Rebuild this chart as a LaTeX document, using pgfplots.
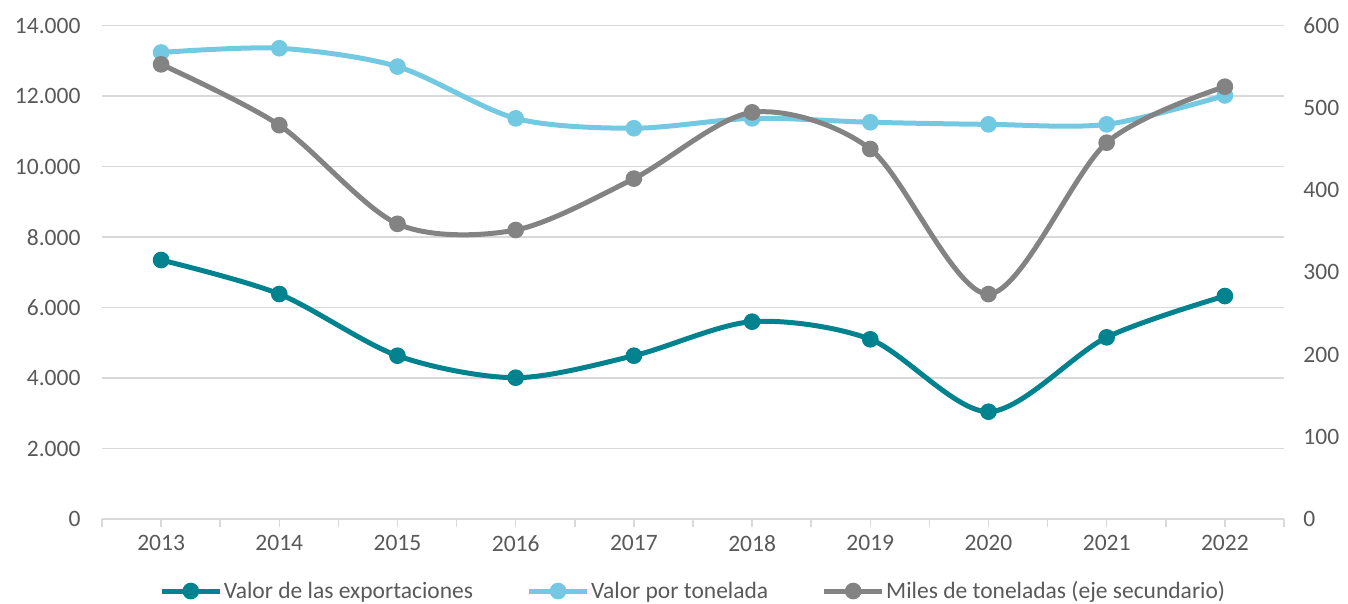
\documentclass[border=0pt]{standalone}
\usepackage{pgfplots}
\pgfplotsset{compat=1.18}
\usepackage{fontspec}
\setmainfont{Carlito}
\definecolor{teal1}{HTML}{00838F}
\definecolor{lblue}{HTML}{74C9E2}
\definecolor{gr}{HTML}{838383}
\definecolor{txt}{HTML}{595959}
\definecolor{gridc}{HTML}{D9D9D9}
\begin{document}
\begin{tikzpicture}
\path[use as bounding box] (-102pt,-84pt) rectangle (1246pt,519pt);
\pgfplotsset{
 base/.style={
  scale only axis, width=1182pt, height=493.3pt, at={(0pt,0pt)}, anchor=south west,
  xmin=-0.5, xmax=9.5, clip=false, scaled y ticks=false,
  tick label style={font=\fontsize{23.5}{26}\selectfont, text=txt},
  /pgf/number format/assume math mode=true,
  /pgf/number format/1000 sep={.},
  /pgf/number format/fixed,
 },
 ser/.style={line width=5pt, smooth, mark=*, mark size=5.8pt, mark options={solid}},
}
\begin{axis}[base, ymin=0, ymax=14000, ytick={0,2000,...,14000},
 axis y line*=left, axis x line*=bottom,
 y axis line style={draw=none}, ytick style={draw=none},
 yticklabel style={xshift=-10pt},
 xticklabel style={yshift=-5pt},
 x axis line style={-, draw=gridc, line width=1.5pt},
 xtick={0,...,9}, xticklabels={2013,2014,2015,2016,2017,2018,2019,2020,2021,2022},
 minor xtick={-0.5,0.5,...,9.5},
 xtick style={draw=gridc, line width=1.5pt},
 minor tick style={draw=gridc, line width=1.5pt},
 tick align=outside, major tick length=8pt, minor tick length=8pt,
 ymajorgrids, grid style={draw=gridc, line width=1.5pt},
 legend style={at={(0.5,-0.146)}, anchor=center, draw=none, fill=none,
   legend columns=3, font=\fontsize{23.5}{26}\selectfont, text=txt,
   nodes={inner xsep=1.5pt},
   /tikz/every even column/.append style={column sep=52pt}},
 legend image code/.code={\draw[#1, mark repeat=2, mark phase=2] plot coordinates {(0pt,0pt) (29pt,0pt) (58pt,0pt)};},
]
\addplot[ser, teal1] coordinates {(0,7350) (1,6385) (2,4634) (3,4010) (4,4634) (5,5600) (6,5100) (7,3045) (8,5156) (9,6328)};
\addlegendentry{Valor de las exportaciones}
\addplot[ser, lblue] coordinates {(0,13240) (1,13360) (2,12840) (3,11370) (4,11090) (5,11370) (6,11260) (7,11200) (8,11200) (9,12020)};
\addlegendentry{Valor por tonelada}
\addlegendimage{ser, gr}
\addlegendentry{Miles de toneladas (eje secundario)}
\end{axis}
\begin{axis}[base, ymin=0, ymax=600, ytick={0,100,...,600},
 axis y line*=right, axis x line=none,
 y axis line style={draw=none}, ytick style={draw=none},
 yticklabel style={xshift=16pt},
]
\addplot[ser, gr] coordinates {(0,553) (1,479) (2,359) (3,351.5) (4,414) (5,494.6) (6,450) (7,273.6) (8,457.7) (9,525.8)};
\end{axis}
\end{tikzpicture}
\end{document}
